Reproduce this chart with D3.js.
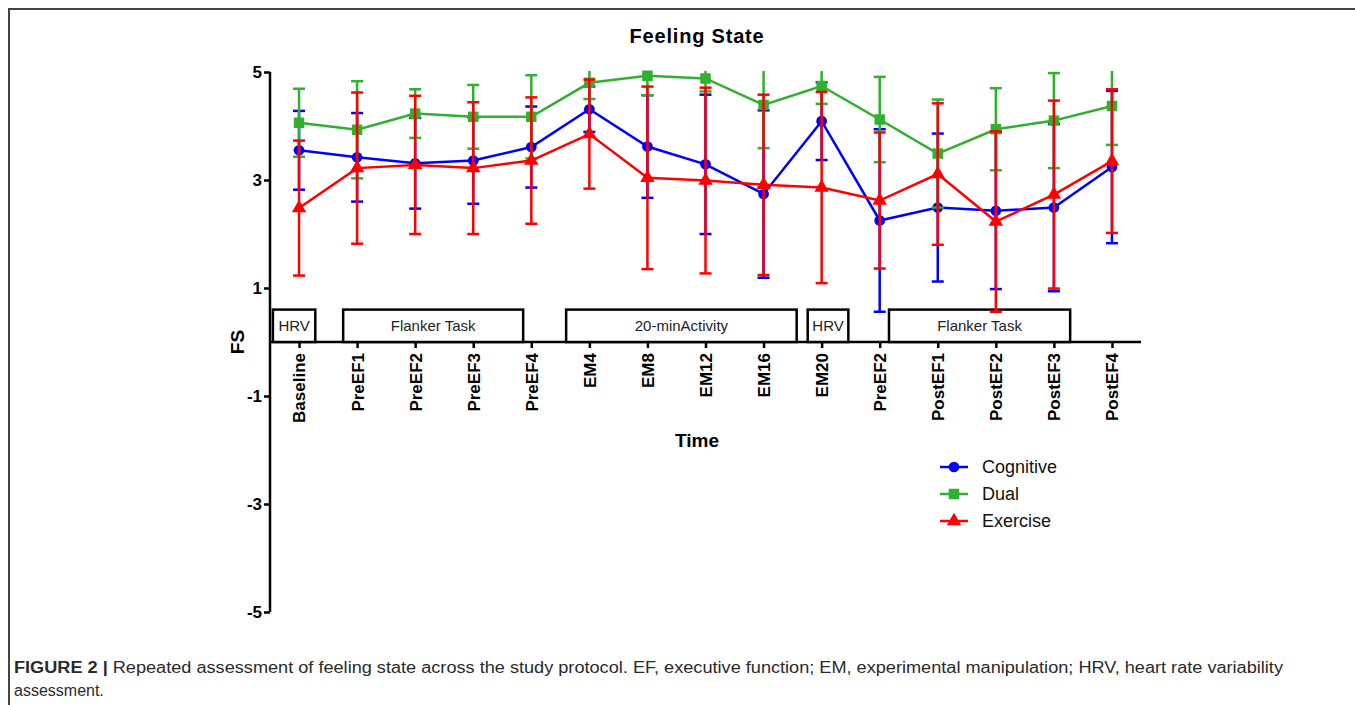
<!DOCTYPE html>
<html lang="en">
<head>
  <meta charset="utf-8" />
  <title>Feeling State</title>
  <style>
    body {
      margin: 0;
      background: #fff;
      font-family: "Liberation Sans", Arial, sans-serif;
    }
    .axis path, .axis line {
      stroke: #000;
      stroke-width: 2.5px;
    }
    .axis text {
      font-family: "Liberation Sans", Arial, sans-serif;
      font-weight: 700;
      font-size: 17px;
      fill: #000;
    }
  </style>
</head>
<body>
  <div id="graphic"></div>
  <script src="https://cdnjs.cloudflare.com/ajax/libs/d3/7.8.5/d3.min.js"></script>
  <script>
    // time points (note PreEF2 appears twice, so the x scale runs on the index)
    var categories = ["Baseline", "PreEF1", "PreEF2", "PreEF3", "PreEF4", "EM4", "EM8", "EM12",
      "EM16", "EM20", "PreEF2", "PostEF1", "PostEF2", "PostEF3", "PostEF4"];

    var cognitiveMean = [3.55, 3.42, 3.31, 3.36, 3.61, 4.31, 3.62, 3.29, 2.74, 4.09, 2.25, 2.49, 2.43, 2.49, 3.24];
    var cognitiveSD   = [0.73, 0.82, 0.84, 0.80, 0.75, 0.42, 0.95, 1.29, 1.55, 0.72, 1.69, 1.37, 1.45, 1.55, 1.41];

    var dualMean = [4.06, 3.93, 4.23, 4.17, 4.17, 4.80, 4.93, 4.88, 4.39, 4.74, 4.12, 3.49, 3.94, 4.10, 4.37];
    var dualSD   = [0.63, 0.90, 0.45, 0.59, 0.77, 0.30, 0.36, 0.24, 0.80, 0.33, 0.79, 1.00, 0.76, 0.88, 0.72];

    var exerciseMean = [2.48, 3.22, 3.28, 3.22, 3.36, 3.85, 3.04, 2.99, 2.91, 2.86, 2.62, 3.11, 2.23, 2.73, 3.35];
    var exerciseSD   = [1.25, 1.40, 1.28, 1.22, 1.17, 1.01, 1.69, 1.72, 1.67, 1.77, 1.26, 1.31, 1.67, 1.74, 1.33];

    var yTicks = [-5, -3, -1, 1, 3, 5];

    // protocol phase boxes, in units of time-point index
    var phaseLabels = ["HRV", "Flanker Task", "20-minActivity", "HRV", "Flanker Task"];
    var phaseStart  = [-0.45, 0.76, 4.6, 8.76, 10.16];
    var phaseEnd    = [0.28, 3.86, 8.57, 9.46, 13.28];
    var phaseHeight = 0.6;

    var series = [
      {name: "Cognitive", mean: cognitiveMean, sd: cognitiveSD, colour: "#0000ff", symbol: d3.symbolCircle, size: 90},
      {name: "Dual", mean: dualMean, sd: dualSD, colour: "#2fb02f", symbol: d3.symbolSquare, size: 110},
      {name: "Exercise", mean: exerciseMean, sd: exerciseSD, colour: "#ff0000", symbol: d3.symbolTriangle, size: 90}
    ];

    var width = 1355, height = 705;

    var svg = d3.select("#graphic").append("svg")
      .attr("width", width)
      .attr("height", height);

    // figure frame (top and left edges)
    svg.append("path")
      .attr("d", "M9,705V9H1355")
      .attr("fill", "none")
      .attr("stroke", "#444")
      .attr("stroke-width", 2);

    var x = d3.scaleLinear()
      .domain([-0.5, categories.length - 0.5])
      .range([270, 1141]);

    var y = d3.scaleLinear()
      .domain([-5, 5])
      .range([612, 72]);

    svg.append("defs").append("clipPath")
      .attr("id", "plotclip")
      .append("rect")
      .attr("x", 260).attr("y", y(5) - 1)
      .attr("width", 900).attr("height", y(-5) - y(5) + 2);

    // title
    svg.append("text")
      .attr("x", 697).attr("y", 43)
      .attr("text-anchor", "middle")
      .attr("font-size", 20).attr("font-weight", 700)
      .attr("letter-spacing", 0.8)
      .text("Feeling State");

    // y axis (plain hyphen for negatives, as in the original)
    var yAxis = d3.axisLeft(y).tickValues(yTicks).tickSize(6).tickPadding(2)
      .tickFormat(function(d) { return String(d); });
    svg.append("g")
      .attr("class", "y axis")
      .attr("transform", "translate(270,0)")
      .call(yAxis)
      .call(function(g) { g.select(".domain").attr("d", "M0," + y(5) + "V" + y(-5)); })
      .selectAll("text").attr("font-size", 18);

    // x axis on the zero line
    var xAxis = d3.axisBottom(x)
      .tickValues(d3.range(categories.length))
      .tickSize(6)
      .tickFormat(function(i) { return categories[i]; });

    svg.append("g")
      .attr("class", "x axis")
      .attr("transform", "translate(0," + y(0) + ")")
      .call(xAxis)
      .call(function(g) { g.select(".domain").attr("d", "M" + x.range()[0] + ",0H" + x.range()[1]); })
      .selectAll("text")
      .attr("transform", "rotate(-90)")
      .attr("text-anchor", "end")
      .attr("x", -11)
      .attr("y", 0)
      .attr("dy", "0.35em");

    // axis titles
    svg.append("text")
      .attr("transform", "translate(244," + y(0) + ") rotate(-90)")
      .attr("text-anchor", "middle")
      .attr("font-size", 19).attr("font-weight", 700)
      .text("FS");

    svg.append("text")
      .attr("x", 697).attr("y", 447)
      .attr("text-anchor", "middle")
      .attr("font-size", 19).attr("font-weight", 700)
      .text("Time");

    // protocol phase boxes
    var phases = svg.append("g").attr("class", "phases")
      .selectAll("g")
      .data(phaseLabels.map(function(d, i) { return {label: d, x0: phaseStart[i], x1: phaseEnd[i]}; }))
      .enter().append("g");

    phases.append("rect")
      .attr("x", function(d) { return x(d.x0); })
      .attr("y", y(phaseHeight))
      .attr("width", function(d) { return x(d.x1) - x(d.x0); })
      .attr("height", y(0) - y(phaseHeight))
      .attr("fill", "#fff")
      .attr("stroke", "#000")
      .attr("stroke-width", 2.5);

    phases.append("text")
      .attr("x", function(d) { return (x(d.x0) + x(d.x1)) / 2; })
      .attr("y", (y(0) + y(phaseHeight)) / 2)
      .attr("dy", "0.36em")
      .attr("text-anchor", "middle")
      .attr("font-size", 15)
      .attr("fill", "#222")
      .text(function(d) { return d.label; });

    // series: error bars, line, markers
    var line = d3.line()
      .x(function(d, i) { return x(i); })
      .y(function(d) { return y(d); });

    var capHalf = 6;

    series.forEach(function(s) {
      var g = svg.append("g").attr("class", "series " + s.name);

      var bars = g.append("g").attr("clip-path", "url(#plotclip)")
        .selectAll("g")
        .data(s.mean.map(function(m, i) { return {i: i, lo: m - s.sd[i], hi: m + s.sd[i]}; }))
        .enter().append("g");

      bars.append("line")
        .attr("x1", function(d) { return x(d.i); })
        .attr("x2", function(d) { return x(d.i); })
        .attr("y1", function(d) { return y(d.lo); })
        .attr("y2", function(d) { return y(d.hi); })
        .attr("stroke", s.colour).attr("stroke-width", 2.5);

      ["lo", "hi"].forEach(function(k) {
        bars.append("line")
          .attr("x1", function(d) { return x(d.i) - capHalf; })
          .attr("x2", function(d) { return x(d.i) + capHalf; })
          .attr("y1", function(d) { return y(d[k]); })
          .attr("y2", function(d) { return y(d[k]); })
          .attr("stroke", s.colour).attr("stroke-width", 2.5);
      });

      g.append("path")
        .datum(s.mean)
        .attr("d", line)
        .attr("fill", "none")
        .attr("stroke", s.colour)
        .attr("stroke-width", 2.5);

      g.selectAll("path.marker")
        .data(s.mean)
        .enter().append("path")
        .attr("class", "marker")
        .attr("transform", function(d, i) { return "translate(" + x(i) + "," + y(d) + ")"; })
        .attr("d", d3.symbol().type(s.symbol).size(s.size))
        .attr("fill", s.colour);
    });

    // legend
    var legend = svg.append("g").attr("class", "legend")
      .selectAll("g")
      .data(series)
      .enter().append("g")
      .attr("transform", function(d, i) { return "translate(940," + (467 + i * 27) + ")"; });

    legend.append("line")
      .attr("x1", 0).attr("x2", 28)
      .attr("stroke", function(d) { return d.colour; })
      .attr("stroke-width", 2.5);

    legend.append("path")
      .attr("transform", "translate(14,0)")
      .attr("d", function(d) { return d3.symbol().type(d.symbol).size(d.size)(); })
      .attr("fill", function(d) { return d.colour; });

    legend.append("text")
      .attr("x", 42)
      .attr("dy", "0.35em")
      .attr("font-size", 18)
      .attr("fill", "#111")
      .text(function(d) { return d.name; });

    // caption
    var caption = svg.append("g").attr("class", "caption").attr("fill", "#2a2a2a").attr("font-size", 16);
    var line1 = caption.append("text").attr("x", 14).attr("y", 673);
    line1.append("tspan").attr("font-weight", 700).text("FIGURE 2 | ");
    line1.append("tspan").text("Repeated assessment of feeling state across the study protocol. EF, executive function; EM, experimental manipulation; HRV, heart rate variability");
    line1.attr("textLength", 1269).attr("lengthAdjust", "spacingAndGlyphs");

    caption.append("text").attr("x", 14).attr("y", 696)
      .text("assessment.");
  </script>
</body>
</html>
